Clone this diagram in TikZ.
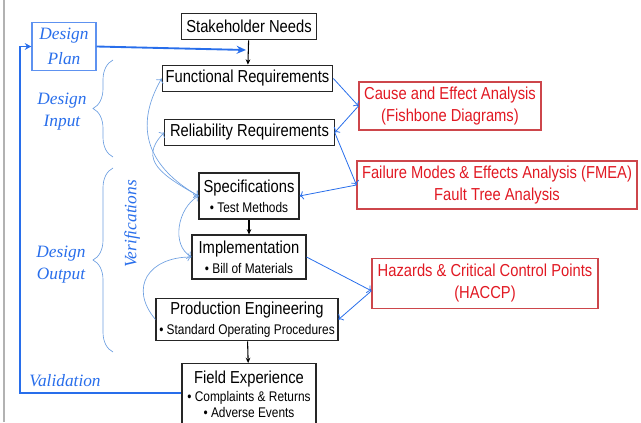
\documentclass[tikz,border=0pt]{standalone}
\usepackage{fontspec}
\newfontfamily\boxfont{Liberation Sans}[FakeStretch=0.85]
\newfontfamily\notefont{Liberation Serif}
\usepackage{tikz}
\usetikzlibrary{arrows.meta, positioning, decorations.pathreplacing}
\definecolor{planblue}{RGB}{40,110,235}
\definecolor{notered}{RGB}{225,25,35}
\definecolor{redframe}{RGB}{205,70,75}
\definecolor{veriblue}{RGB}{110,160,225}
\newcommand{\subline}[1]{{\fontsize{10.5}{13}\selectfont #1}}

\begin{document}
\begin{tikzpicture}[x=0.75pt, y=0.75pt,
  box/.style={rectangle, draw=black!85, line width=0.8pt, align=center, inner sep=1pt, font=\boxfont\fontsize{13}{15}\selectfont},
  redbox/.style={rectangle, draw=redframe, line width=0.8pt, align=center, inner sep=1pt, text=notered, font=\boxfont\fontsize{13}{16.5}\selectfont},
  note/.style={text=planblue, align=center, font=\notefont\itshape\fontsize{13}{16.5}\selectfont},
  flow/.style={-{Stealth[length=4pt,width=3.5pt]}, black, line width=0.8pt},
  link/.style={-{To[length=3pt]}, planblue, line width=0.6pt},
  verify/.style={{To[length=3pt]}-{To[length=3pt]}, veriblue, line width=0.5pt},
  mainlink/.style={-{Stealth[length=5pt,width=5pt]}, planblue, line width=1.4pt},
  span/.style={decorate, decoration={brace, amplitude=15pt}, veriblue, line width=0.5pt}]
\useasboundingbox (0,0) rectangle (641,422);
\draw[black!30, line width=1.5pt] (3.5,0) -- (3.5,422);

\node (stake) [box, minimum width=101pt, minimum height=20pt] at (249,395.5) {Stakeholder Needs};
\node (func) [box, minimum width=128pt, minimum height=20pt] at (247.5,343.5) {Functional Requirements};
\node (rel) [box, minimum width=127pt, minimum height=20pt] at (249.5,289.5) {Reliability Requirements};
\node (spec) [box, minimum width=75pt, minimum height=34.5pt] at (249,226) {Specifications\\ \subline{\textbullet\ Test Methods}};
\node (impl) [box, minimum width=85.5pt, minimum height=33pt] at (249,165) {Implementation\\ \subline{\textbullet\ Bill of Materials}};
\node (prod) [box, minimum width=136.5pt, minimum height=32pt] at (247,102.5) {Production Engineering\\ \subline{\textbullet\ Standard Operating Procedures}};
\node (field) [box, minimum width=100.5pt, minimum height=46pt, anchor=north] at (249,59) {Field Experience\\[-1pt] \subline{\textbullet\ Complaints \& Returns}\\[-3pt] \subline{\textbullet\ Adverse Events}};

\node (cause) [redbox, minimum width=136.5pt, minimum height=36pt] at (450,316) {Cause and Effect Analysis\\(Fishbone Diagrams)};
\node (fmea) [redbox, minimum width=210pt, minimum height=36pt] at (497,237) {Failure Modes \& Effects Analysis (FMEA)\\Fault Tree Analysis};
\node (haccp) [redbox, minimum width=169.5pt, minimum height=37pt] at (485,138.5) {Hazards \& Critical Control Points\\(HACCP)};

\node (plan) [note, draw=planblue!75, line width=0.8pt, minimum width=48pt, minimum height=36pt, inner sep=1pt, font=\notefont\itshape\fontsize{13}{18.5}\selectfont] at (64,375.5) {Design\\Plan};
\node (input) [note] at (62,310) {Design\\Input};
\node (output) [note] at (61,157) {Design\\Output};
\node (verif) [note, rotate=90] at (132,198) {Verifications};
\node (valid) [note] at (65,41) {Validation};

\coordinate (merge) at (246,372);
\coordinate (valturn) at (20,29);

\draw [span] (113,265) -- (113,362);
\draw [span] (113,70) -- (113,254);

\draw [flow] (stake) -- (func);
\draw [flow] (spec) -- (impl);
\draw [flow] (prod) -- (field);

\draw [mainlink, -{Stealth[length=7pt,width=6pt]}] (plan.east) -- (merge);
\draw [mainlink] (field.west |- valturn) -- (valturn) |- (plan.west);

\draw [link] (func.east) -- (cause.west);
\draw [link] (cause.west) -- (rel.east);
\draw [link] (rel.east) -- (fmea.west);
\draw [link] (fmea.west) -- (spec.east);
\draw [link] (impl.east) -- ([yshift=-5.5pt]haccp.west);
\draw [link] ([yshift=-5.5pt]haccp.west) -- (prod.east);

\draw [verify] (spec.west) to[out=150, in=240, looseness=1.2] (func.west);
\draw [verify] (spec.west) to[out=150, in=225, looseness=1.4] (rel.west);
\draw [verify] (impl.west) to[out=150, in=210] (spec.west);
\draw [verify, -{To[length=3pt]}] (prod.west) to[out=130, in=180, looseness=1.5] (impl.west);
\end{tikzpicture}
\end{document}
